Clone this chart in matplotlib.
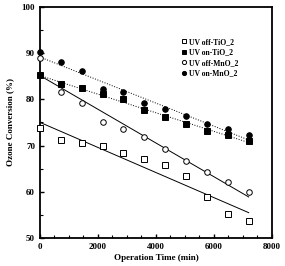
import matplotlib.pyplot as plt
import numpy as np
from matplotlib.ticker import MultipleLocator

plt.rcParams['font.family'] = ['Liberation Serif', 'DejaVu Serif']
plt.rcParams['font.weight'] = 'bold'

time = [0, 720, 1440, 2160, 2880, 3600, 4320, 5040, 5760, 6480, 7200]
off_tio2 = [73.8, 71.2, 70.5, 70.0, 68.3, 67.1, 65.8, 63.4, 58.8, 55.3, 53.7]
on_tio2 = [85.2, 83.3, 82.4, 81.1, 80.0, 77.7, 76.1, 74.7, 73.2, 72.4, 70.9]
off_mno2 = [88.9, 81.5, 79.2, 75.2, 73.5, 71.9, 69.2, 66.7, 64.2, 62.1, 59.9]
on_mno2 = [90.2, 88.0, 86.2, 82.2, 81.5, 79.3, 77.9, 76.3, 74.7, 73.5, 72.3]

fig = plt.figure(figsize=(2.85, 2.66), dpi=100)
ax = fig.add_axes([0.14, 0.105, 0.814, 0.869])

series = [
    (off_tio2, 's', 'white', '-', 'UV off-TiO_2'),
    (on_tio2, 's', 'black', ':', 'UV on-TiO_2'),
    (off_mno2, 'o', 'white', '-', 'UV off-MnO_2'),
    (on_mno2, 'o', 'black', ':', 'UV on-MnO_2'),
]
t = np.array(time)
for vals, mk, fc, ls, lab in series:
    ax.plot(time, vals, linestyle='none', marker=mk, markersize=4,
            markerfacecolor=fc, markeredgecolor='black', markeredgewidth=0.7,
            label=lab, clip_on=False, zorder=3)
    k, b = np.polyfit(t, vals, 1)
    ax.plot(t, k * t + b, color='black', linestyle=ls, linewidth=0.7)

ax.set_xlim(0, 8000)
ax.set_ylim(50, 100)
ax.set_xticks([0, 2000, 4000, 6000, 8000])
ax.set_yticks([50, 60, 70, 80, 90, 100])
ax.xaxis.set_minor_locator(MultipleLocator(500))
ax.yaxis.set_minor_locator(MultipleLocator(5))
ax.tick_params(which='both', direction='in', labelsize=6.5, top=False, right=False)
ax.tick_params(which='major', length=3, width=1)
ax.tick_params(which='minor', length=2, width=0.8)
for s in ax.spines.values():
    s.set_linewidth(1.3)
ax.set_xlabel('Operation Time (min)', fontsize=6.5, fontweight='bold', labelpad=2)
ax.set_ylabel('Ozone Conversion (%)', fontsize=6.5, fontweight='bold', labelpad=5)

ax.legend(loc='upper left', bbox_to_anchor=(0.615, 0.865), fontsize=5.5, frameon=False,
          handlelength=0.5, handletextpad=0.4, labelspacing=0.32, markerscale=0.75,
          borderpad=0, borderaxespad=0)

fig.savefig('out.png', dpi=100)
